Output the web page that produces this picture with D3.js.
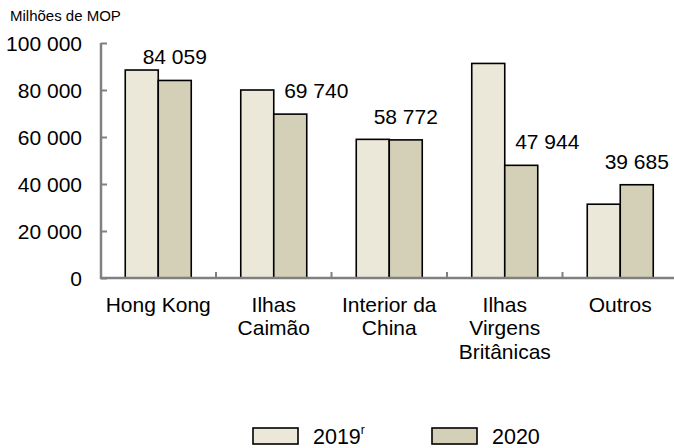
<!DOCTYPE html>
<html>
<head>
<meta charset="utf-8">
<script src="https://cdn.jsdelivr.net/npm/d3@7"></script>
<style>
  html, body { margin: 0; padding: 0; background: #fff; }
  svg { display: block; font-family: "Liberation Sans", Arial, sans-serif; }
</style>
</head>
<body>
<svg id="chart" width="674" height="448"></svg>
<script>
const categories = [
  ["Hong Kong"],
  ["Ilhas", "Caimão"],
  ["Interior da", "China"],
  ["Ilhas", "Virgens", "Britânicas"],
  ["Outros"]
];
const values2019 = [88500, 80000, 59000, 91300, 31400];
const values2020 = [84059, 69740, 58772, 47944, 39685];
const yTicks = [0, 20000, 40000, 60000, 80000, 100000];
const seriesNames = ["2019", "2020"];
const unitLabel = "Milhões de MOP";

const colors = ["#EBE8D9", "#D4CFB7"];
const svg = d3.select("#chart");
const fmt = v => d3.format(",")(v).replace(/,/g, " ");

const x = d3.scaleBand().domain(d3.range(categories.length)).range([100.5, 678]).paddingInner(0).paddingOuter(0);
const y = d3.scaleLinear().domain([0, 100000]).range([278, 43]);
const barW = 33;

// title
svg.append("text").attr("x", 10).attr("y", 21).attr("font-size", 15).attr("fill", "#000").text(unitLabel);

// bars
const g = svg.append("g");
categories.forEach((c, i) => {
  const cx = x(i) + x.bandwidth() / 2;
  [values2019[i], values2020[i]].forEach((v, s) => {
    g.append("rect")
      .attr("x", cx - barW + s * barW)
      .attr("y", y(v))
      .attr("width", barW)
      .attr("height", y(0) - y(v))
      .attr("fill", colors[s])
      .attr("stroke", "#000")
      .attr("stroke-width", 1.6);
  });
  // value label for 2020
  const base = y(values2020[i]) - 16;
  let lx = cx + barW / 2;
  if (y(values2019[i]) < base + 3) lx += 26;
  svg.append("text").attr("x", lx).attr("y", base)
    .attr("text-anchor", "middle").attr("font-size", 21).text(fmt(values2020[i]));
});

// y axis
const yAxis = d3.axisRight(y).tickValues(yTicks).tickSize(6).tickFormat("");
const ya = svg.append("g").attr("transform", "translate(101,0)").call(yAxis);
ya.select(".domain").attr("stroke", "#808080").attr("stroke-width", 2.5).attr("d", "M0," + y(100000) + "V" + (y(0) + 1));
ya.selectAll(".tick line").attr("stroke", "#808080").attr("stroke-width", 2);
yTicks.forEach(t => {
  svg.append("text").attr("x", 82).attr("y", y(t)).attr("dy", "0.36em")
    .attr("text-anchor", "end").attr("font-size", 21).text(fmt(t));
});

// x axis
const xa = svg.append("g").attr("transform", "translate(0," + y(0) + ")");
xa.append("line").attr("x1", 100).attr("x2", x.range()[1]).attr("y1", 0).attr("y2", 0)
  .attr("stroke", "#808080").attr("stroke-width", 2.5);
d3.range(1, categories.length).forEach(i => {
  xa.append("line").attr("x1", x(i)).attr("x2", x(i)).attr("y1", 0).attr("y2", -6)
    .attr("stroke", "#808080").attr("stroke-width", 2);
});
categories.forEach((c, i) => {
  const cx = x(i) + x.bandwidth() / 2;
  const t = svg.append("text").attr("text-anchor", "middle").attr("font-size", 21);
  c.forEach((line, k) => {
    t.append("tspan").attr("x", cx).attr("y", 312 + k * 23.3).text(line);
  });
});

// legend
const legX = [253, 432];
seriesNames.forEach((n, s) => {
  svg.append("rect").attr("x", legX[s]).attr("y", 428).attr("width", 45).attr("height", 16)
    .attr("fill", colors[s]).attr("stroke", "#000").attr("stroke-width", 1.6);
  const t = svg.append("text").attr("x", legX[s] + 60).attr("y", 443.5).attr("font-size", 21.5).text(n);
  if (s === 0) t.append("tspan").attr("font-size", 12).attr("dy", -10).text("r");
});
</script>
</body>
</html>
